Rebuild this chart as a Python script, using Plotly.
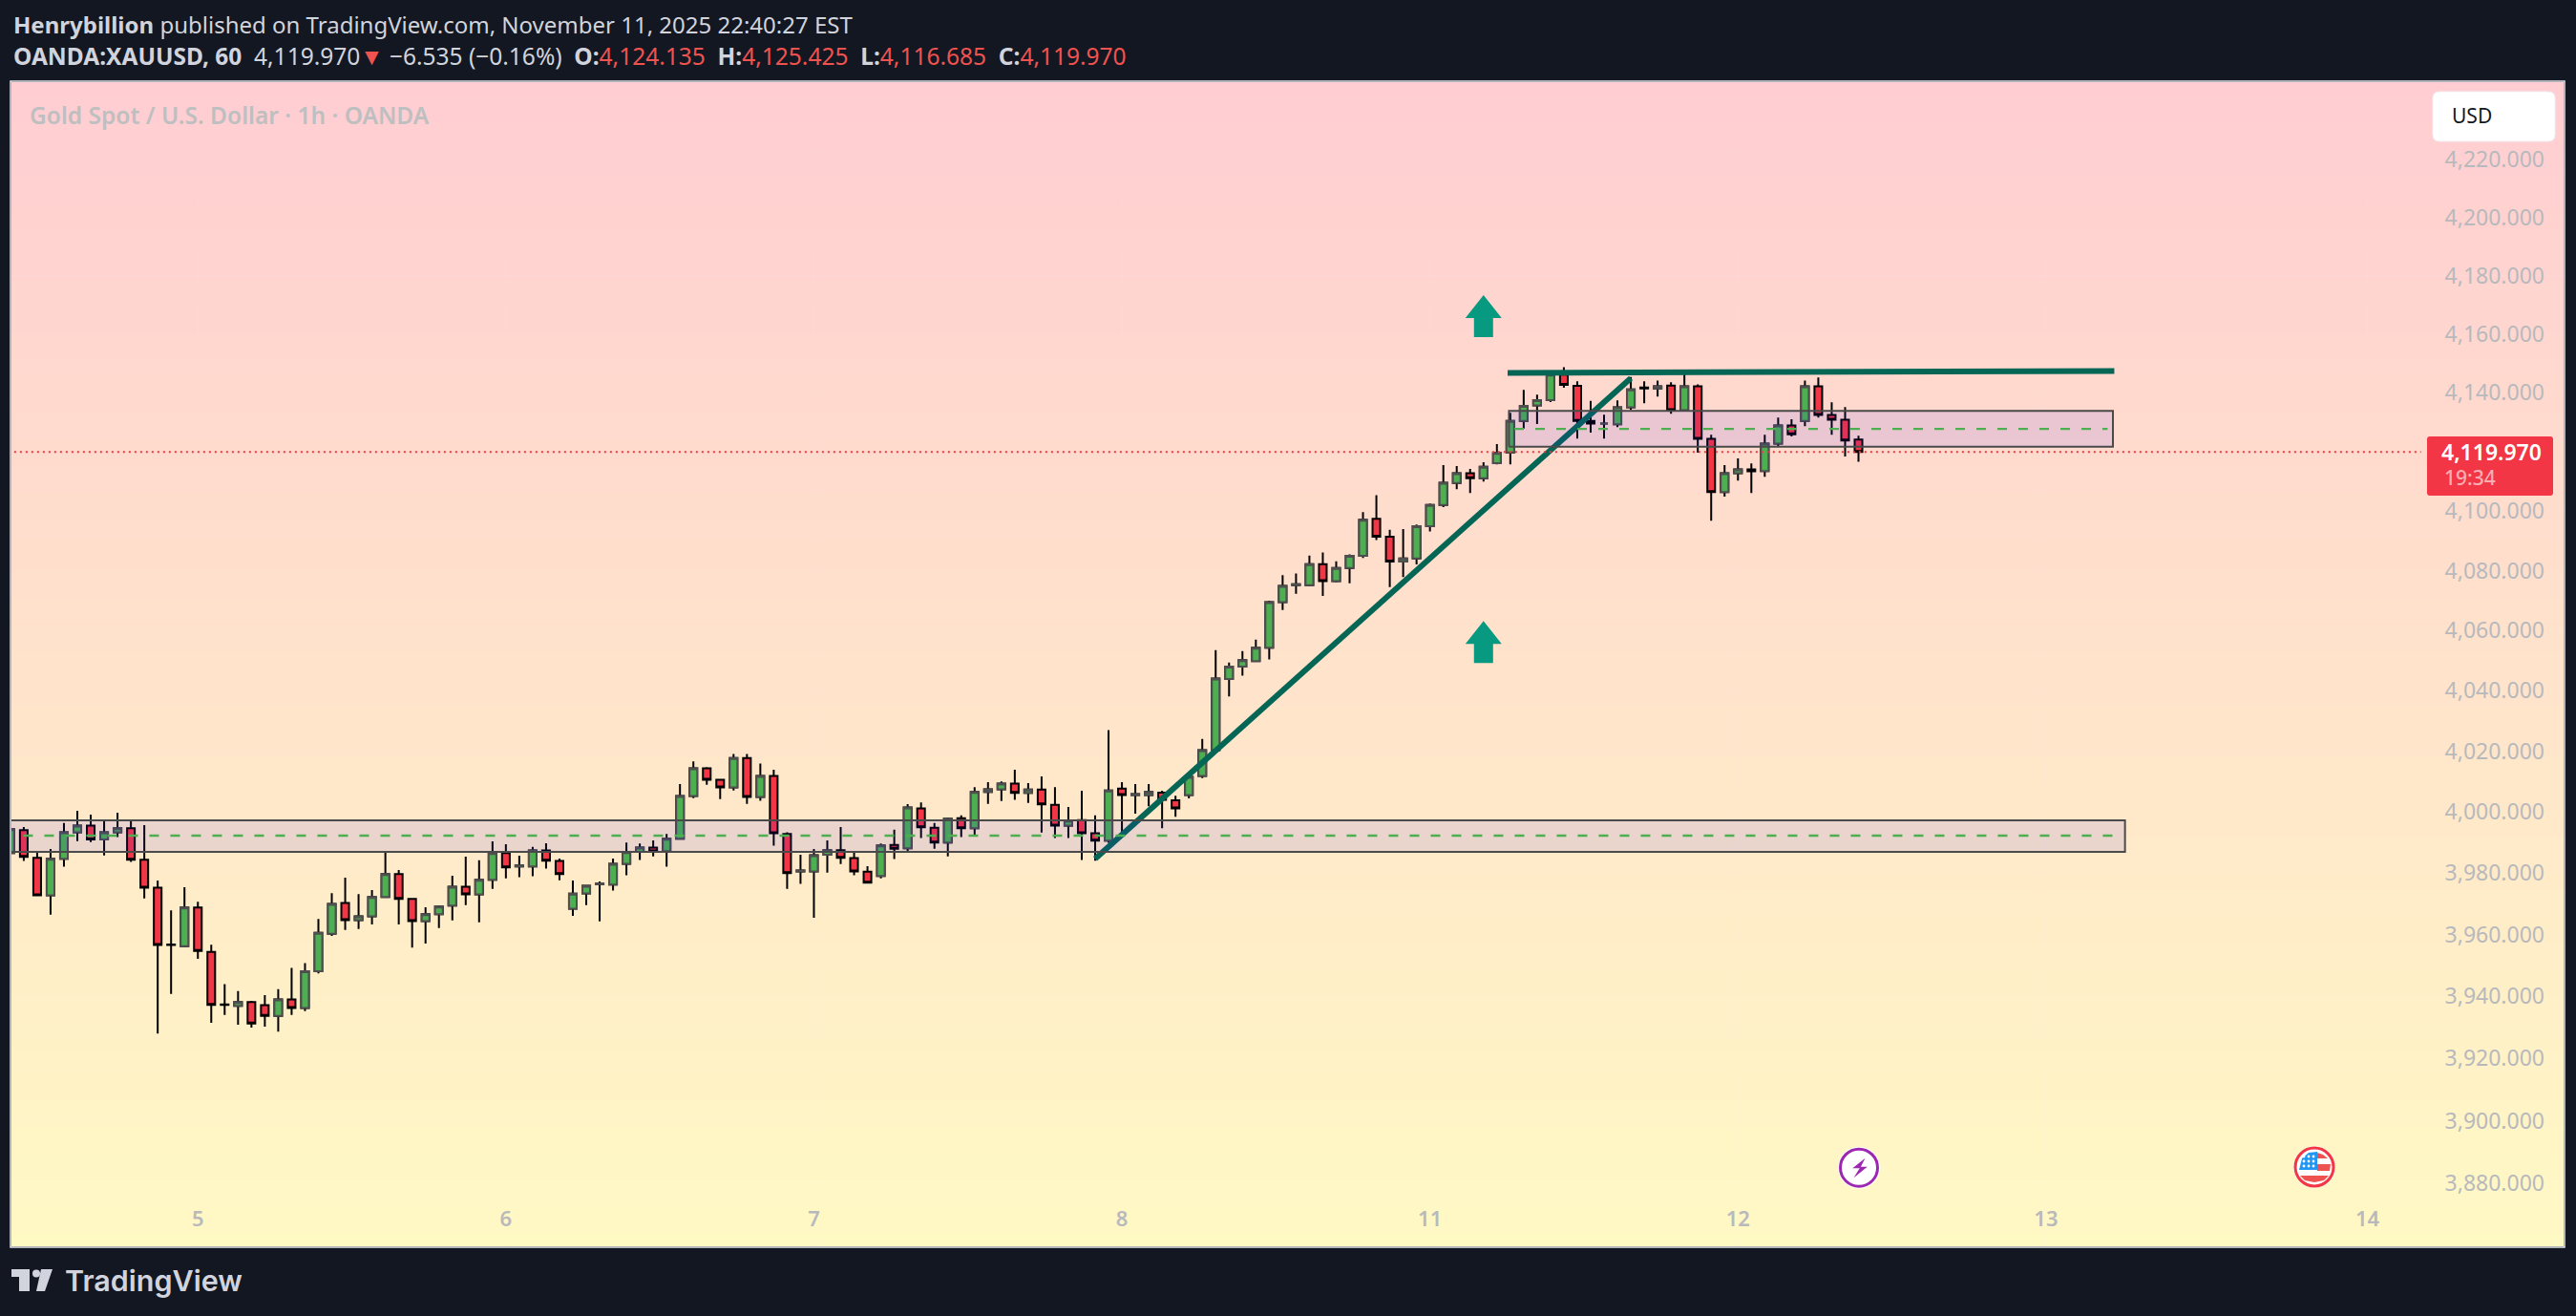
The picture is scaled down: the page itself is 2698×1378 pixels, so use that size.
import math
import plotly.graph_objects as go

W, H = 2698, 1378

# ---------- data (prices; log price scale) ----------
opens = [3986.6,3994.1,3985.0,3972.8,3984.7,3993.4,3995.6,3991.0,3993.4,3994.7,3984.4,3975.3,3956.8,3956.2,3968.8,3954.4,3937.4,3936.9,3938.1,3937.1,3933.7,3939.0,3936.2,3948.1,3960.3,3970.3,3964.7,3965.9,3972.2,3979.7,3971.6,3964.4,3966.6,3969.4,3975.6,3973.1,3977.8,3986.6,3982.2,3982.2,3987.4,3984.0,
         3968.4,3973.4,3976.4,3976.3,3983.1,3987.0,3988.4,3987.2,3991.3,4005.3,4014.4,4010.6,4008.1,4017.8,4005.0,4011.9,3992.8,3980.6,3980.6,3986.0,3987.5,3984.9,3980.5,3979.1,3989.2,3988.1,4001.2,3994.9,3990.0,3998.0,3994.7,4006.6,4007.5,4009.4,4006.3,4007.4,4002.4,3995.6,3997.4,3993.1,3990.6,
         4007.7,4005.6,4005.6,4006.4,4003.9,4005.6,4011.9,4020.4,4043.9,4048.0,4049.9,4054.3,4069.5,4075.2,4075.2,4082.2,4076.5,4080.9,4085.0,4097.4,4091.4,4083.1,4084.1,4094.9,
         4102.1,4109.5,4112.8,4111.1,4116.2,4119.8,4130.5,4135.7,4137.5,4146.2,4142.4,4130.5,4129.6,4129.3,4135.1,4141.8,4141.5,4142.5,4134.1,4142.2,4124.4,4106.4,4112.8,4114.1,4113.5,4122.8,4128.9,4130.5,4142.2,4132.5,4130.9,4124.135]
highs = [3996.0,3995.1,3986.9,3987.9,3996.4,4000.4,3999.2,3997.3,3999.8,3997.3,3995.7,3977.6,3967.9,3975.4,3970.7,3956.7,3943.9,3941.7,3938.5,3940.4,3942.3,3949.2,3950.7,3965.1,3973.5,3978.5,3973.2,3974.5,3987.0,3981.0,3971.6,3968.9,3969.5,3979.2,3985.4,3984.2,3990.4,3989.5,3985.7,3988.6,3989.8,3984.8,
         3977.6,3975.9,3977.3,3984.8,3990.0,3989.7,3990.7,3992.8,4009.2,4016.7,4014.8,4010.6,4019.1,4019.1,4016.0,4013.9,3993.4,3986.0,3987.9,3990.7,3995.1,3986.9,3982.3,3989.7,3994.2,4002.6,4003.2,3996.4,3998.2,3998.9,4008.2,4009.8,4010.1,4013.9,4009.5,4011.7,4008.2,4001.7,4007.0,3998.9,4027.0,
         4009.8,4009.2,4009.2,4007.0,4005.4,4012.2,4024.1,4053.5,4049.4,4053.2,4057.0,4070.0,4078.5,4079.1,4085.1,4086.1,4083.2,4085.5,4099.7,4105.4,4093.7,4094.0,4095.5,4102.6,
         4115.5,4115.2,4114.2,4116.5,4122.6,4133.2,4141.0,4139.4,4147.6,4148.7,4143.9,4137.3,4132.6,4137.4,4145.4,4143.9,4144.2,4143.6,4146.5,4142.9,4125.8,4115.5,4117.8,4116.1,4125.8,4131.6,4131.0,4144.2,4145.2,4136.8,4135.2,4125.425]
lows = [3985.0,3984.0,3972.8,3966.5,3982.1,3990.5,3990.2,3985.8,3991.8,3983.7,3971.8,3928.0,3940.8,3956.2,3952.1,3931.4,3934.0,3930.8,3929.9,3930.2,3928.6,3934.0,3935.2,3947.4,3959.6,3961.5,3961.8,3963.3,3972.2,3963.3,3955.8,3957.1,3962.1,3964.6,3969.6,3964.0,3974.9,3978.3,3978.7,3979.0,3981.5,3977.7,
        3966.1,3969.6,3964.3,3974.3,3979.3,3984.3,3985.5,3982.1,3991.3,4004.6,4009.0,4004.3,4007.1,4002.7,4003.7,3989.0,3974.9,3976.5,3965.5,3980.2,3983.0,3979.3,3976.9,3978.3,3984.6,3987.1,3991.5,3988.0,3985.5,3991.8,3992.1,4002.7,4003.6,4004.0,4003.0,3993.3,3991.5,3991.5,3984.3,3984.1,3989.9,
        3992.2,3999.5,4001.9,3994.7,3998.5,4004.5,4011.2,4019.4,4038.1,4045.0,4049.9,4050.4,4066.9,4072.3,4075.2,4071.6,4076.1,4075.8,4084.3,4090.3,4074.5,4077.9,4082.1,4093.2,
        4101.4,4107.4,4106.1,4110.0,4115.8,4115.8,4127.9,4129.4,4136.9,4141.7,4124.5,4126.5,4124.5,4128.4,4134.2,4136.5,4138.7,4132.9,4133.7,4119.7,4096.8,4104.9,4110.3,4106.1,4111.6,4121.9,4125.2,4128.7,4131.6,4125.8,4118.4,4116.685]
closes = [3994.4,3985.3,3972.8,3984.7,3993.4,3995.6,3991.0,3993.4,3994.7,3984.4,3975.3,3956.6,3956.6,3968.8,3954.7,3937.2,3937.2,3938.1,3931.2,3933.7,3939.0,3936.2,3948.1,3960.6,3970.0,3964.7,3965.9,3972.2,3979.7,3971.6,3964.4,3966.6,3969.1,3975.6,3973.1,3977.8,3986.6,3981.9,3982.5,3987.4,3984.1,3979.7,
          3973.3,3975.9,3976.6,3983.1,3986.9,3988.4,3987.1,3991.3,4005.3,4014.4,4010.6,4008.1,4017.8,4005.0,4011.9,3993.1,3980.0,3980.9,3985.9,3987.5,3985.0,3980.6,3976.9,3989.1,3988.0,4001.5,3995.0,3990.0,3997.8,3994.7,4006.6,4007.5,4009.4,4006.3,4007.4,4002.5,3995.6,3997.2,3993.1,3990.6,4007.1,
          4005.6,4005.9,4006.6,4004.0,4001.2,4011.6,4020.4,4044.1,4048.0,4050.2,4054.3,4069.5,4074.9,4075.5,4082.2,4076.5,4080.9,4085.0,4097.1,4091.4,4083.1,4084.1,4094.9,4102.1,
          4109.6,4112.8,4111.1,4115.0,4119.6,4130.5,4135.6,4137.5,4146.2,4142.7,4130.5,4129.6,4129.6,4135.1,4141.2,4141.5,4142.2,4134.1,4142.2,4124.4,4106.4,4112.8,4114.1,4113.4,4122.8,4128.9,4125.9,4142.2,4132.5,4130.9,4123.8,4119.970]
bars = list(range(-1, len(opens) - 1))

day_ticks = [13, 36, 59, 82, 105, 128, 151, 175]
day_labels = ["5", "6", "7", "8", "11", "12", "13", "14"]
price_ticks = [3880, 3900, 3920, 3940, 3960, 3980, 4000, 4020, 4040, 4060, 4080, 4100, 4140, 4160, 4180, 4200, 4220]
price_labels = [f"{p:,.3f}" for p in price_ticks]

trend_x, trend_y = [80.0, 120.0], [3984.7, 4145.0]
ceiling_x, ceiling_y = [110.8, 156.1], [4146.8, 4147.4]
zone_low_x, zone_low_y = [-2, 156.9], [3987.0, 3997.3]
zone_low_mid = 3992.3
zone_high_x, zone_high_y = [110.9, 156.0], [4121.7, 4133.9]
zone_high_mid = 4127.75
last_price = 4119.970
last_x = [-2, 179.0]
arrow_x = 109
arrow_prices = [4159.0, 4049.2]

BG = "#131722"
TXT = "#d1d4dc"
AXIS_TXT = "#b8b9bd"
RED = "#f23645"
HEAD_RED = "#ef5350"
UP_FILL = "#4caf50"
UP_EDGE = "#4f4f4f"
DARK_TEAL = "#056656"
ARROW = "#089981"
BOX_FILL = "rgba(45,25,250,0.10)"
BOX_EDGE = "#4a4a4a"
FONT = "Noto Sans"

def X(px): return px / W
def Y(py): return 1 - py / H
def poly(pts):
    return "M" + " L".join(f"{X(a):.6f} {Y(b):.6f}" for a, b in pts) + " Z"
def round_rect(x0, y0, x1, y1, r):
    p = lambda a, b: f"{X(a):.6f} {Y(b):.6f}"
    return (f"M{p(x0+r,y0)} L{p(x1-r,y0)} Q{p(x1,y0)} {p(x1,y0+r)} L{p(x1,y1-r)} Q{p(x1,y1)} {p(x1-r,y1)} "
            f"L{p(x0+r,y1)} Q{p(x0,y1)} {p(x0,y1-r)} L{p(x0,y0+r)} Q{p(x0,y0)} {p(x0+r,y0)} Z")

fig = go.Figure()

# gradient background on its own subplot (drawn first)
fig.add_trace(go.Heatmap(x=[0, 1], y=[0, 1], z=[[0, 0], [1, 1]], zsmooth="best", showscale=False,
                         colorscale=[[0, "#FFF9C4"], [1, "#FFCDD2"]], hoverinfo="skip", xaxis="x", yaxis="y"))

def line(x, y, **kw):
    fig.add_trace(go.Scatter(x=x, y=y, mode="lines", xaxis="x2", yaxis="y2", hoverinfo="skip", showlegend=False, **kw))

line(trend_x, trend_y, line=dict(color=DARK_TEAL, width=6))
for zx, zy, mid in ((zone_low_x, zone_low_y, zone_low_mid), (zone_high_x, zone_high_y, zone_high_mid)):
    line([zx[0], zx[1], zx[1], zx[0], zx[0]], [zy[0], zy[0], zy[1], zy[1], zy[0]],
         fill="toself", fillcolor=BOX_FILL, line=dict(color=BOX_EDGE, width=2))
    line([zx[0] + 0.4, zx[1] - 0.4], [mid, mid], line=dict(color=UP_FILL, width=2.4, dash="10px,12px"))
line(ceiling_x, ceiling_y, line=dict(color=DARK_TEAL, width=6))
line(last_x, [last_price, last_price], line=dict(color=RED, width=2, dash="2px,4px"))

# candles: black wicks and outlines, then grey outlines on the rising bodies
fig.add_trace(go.Candlestick(
    x=bars, open=opens, high=highs, low=lows, close=closes, xaxis="x2", yaxis="y2",
    whiskerwidth=0, showlegend=False, hoverinfo="skip",
    increasing=dict(fillcolor=UP_FILL, line=dict(color="#000000", width=2)),
    decreasing=dict(fillcolor=RED, line=dict(color="#000000", width=2))))
up = [i for i in range(len(bars)) if closes[i] >= opens[i]]
fig.add_trace(go.Candlestick(
    x=[bars[i] for i in up], open=[opens[i] for i in up], close=[closes[i] for i in up],
    high=[closes[i] for i in up], low=[opens[i] for i in up], xaxis="x2", yaxis="y2",
    whiskerwidth=0, showlegend=False, hoverinfo="skip",
    increasing=dict(fillcolor=UP_FILL, line=dict(color=UP_EDGE, width=2)),
    decreasing=dict(fillcolor=UP_FILL, line=dict(color=UP_EDGE, width=2))))

shapes = []
# plot border
shapes.append(dict(type="rect", xref="paper", yref="paper", x0=X(11), x1=X(2686), y0=Y(1306), y1=Y(85),
                   line=dict(color="#e6e8ee", width=1.5), fillcolor="rgba(0,0,0,0)", layer="below"))
# arrows
for price in arrow_prices:
    shapes.append(dict(type="path", xref="x2", yref="y2", xsizemode="pixel", ysizemode="pixel",
                       xanchor=arrow_x, yanchor=price,
                       path="M-10 0 L-10 20 L-19 20 L0 44 L19 20 L10 20 L10 0 Z",
                       fillcolor=ARROW, line=dict(width=0)))
# USD button and last-price tag
shapes.append(dict(type="path", xref="paper", yref="paper", path=round_rect(2548, 96, 2676, 148, 7),
                   fillcolor="#ffffff", line=dict(color="#f0f1f4", width=1)))
shapes.append(dict(type="path", xref="paper", yref="paper", path=round_rect(2542, 457, 2674, 519, 3),
                   fillcolor=RED, line=dict(width=0)))
# event icons
def circle(cx, cy, r, fill, edge=None, w=0):
    shapes.append(dict(type="circle", xref="paper", yref="paper", x0=X(cx - r), x1=X(cx + r), y0=Y(cy + r), y1=Y(cy - r),
                       fillcolor=fill, line=dict(color=edge or fill, width=w)))
circle(1947, 1222.7, 22, "#ffffff")
circle(1947, 1222.7, 19.5, "#ffffff", "#9c27b0", 3)
shapes.append(dict(type="path", xref="paper", yref="paper", fillcolor="#9c27b0", line=dict(width=0),
                   path=poly([(1953.5, 1212.7), (1940.3, 1223.3), (1947.8, 1223.3), (1941.5, 1233.3), (1955.8, 1221.7), (1948.9, 1221.7)])))
circle(2424, 1222, 22, "#ffffff")
circle(2424, 1222, 20, "#ffffff", RED, 3)
for pts, col in (([(2427, 1207), (2433, 1209), (2438, 1213), (2427, 1213)], "#ef5350"),
                 ([(2427, 1219), (2441, 1219), (2440, 1226), (2427, 1226)], "#ef5350"),
                 ([(2409, 1231), (2439, 1231), (2434, 1236), (2424, 1238), (2414, 1236)], "#ef5350"),
                 ([(2427, 1206), (2418, 1207), (2411, 1213), (2408, 1225), (2427, 1225)], "#2196f3")):
    shapes.append(dict(type="path", xref="paper", yref="paper", fillcolor=col, line=dict(width=0), path=poly(pts)))
for sx in (2413, 2418, 2423):
    for sy in (1211, 1216, 1221):
        circle(sx, sy, 1.4, "#ffffff")
# TradingView logo mark
for pts in ([(12, 1329), (31, 1329), (31, 1352), (20, 1352), (20, 1337), (12, 1337)],
            [(55, 1329), (43, 1329), (38, 1352), (47, 1352)]):
    shapes.append(dict(type="path", xref="paper", yref="paper", fillcolor=TXT, line=dict(width=0), path=poly(pts)))
circle(38, 1333.5, 4, TXT)

def note(x, y, text, size, color=TXT, anchor="left", weight=None, family=FONT):
    f = dict(family=family, size=size, color=color)
    if weight: f["weight"] = weight
    return dict(xref="paper", yref="paper", x=X(x), y=Y(y), xanchor=anchor, yanchor="middle",
                text=text, showarrow=False, font=f, align=anchor)

r = lambda s: f"<span style='color:{HEAD_RED}'>{s}</span>"
annotations = [
    note(12, 25, "<b>Henrybillion</b> published on TradingView.com, November 11, 2025 22:40:27 EST", 24),
    note(12, 58, "<b>OANDA:XAUUSD, 60</b>  4,119.970" + r("▼") + " −6.535 (−0.16%)  <b>O:</b>" + r("4,124.135")
         + "  <b>H:</b>" + r("4,125.425") + "  <b>L:</b>" + r("4,116.685") + "  <b>C:</b>" + r("4,119.970"), 24.5),
    note(29, 120, "Gold Spot / U.S. Dollar · 1h · OANDA", 24.5, "#bdbfc0", weight=600),
    note(2566, 121, "USD", 21, "#131722"),
    note(2664, 473, "4,119.970", 23, "#ffffff", "right", weight=600),
    note(2558, 500, "19:34", 21, "rgba(255,255,255,0.6)", weight=500),
    note(66, 1340, "TradingView", 30.5, TXT, weight=600, family="Inter"),
]

fig.update_layout(
    width=W, height=H, margin=dict(l=0, r=0, t=0, b=0), paper_bgcolor=BG, plot_bgcolor="rgba(0,0,0,0)",
    showlegend=False, shapes=shapes, annotations=annotations, hovermode=False,
    boxgap=0.3, boxgroupgap=0.18,
    xaxis=dict(domain=[X(12), X(2685)], range=[0, 1], visible=False, anchor="y"),
    yaxis=dict(domain=[Y(1305), Y(86)], range=[0, 1], visible=False, anchor="x"),
    xaxis2=dict(domain=[X(12), X(2685)], range=[-0.92, 189.65], anchor="y2", rangeslider=dict(visible=False),
                tickmode="array", tickvals=day_ticks, ticktext=day_labels, ticks="", showline=False, zeroline=False,
                ticklabelposition="inside", ticklabelstandoff=14, tickangle=0,
                tickfont=dict(family=FONT, size=22, color=AXIS_TXT, weight=600),
                showgrid=True, gridcolor="rgba(240,243,250,0.08)"),
    yaxis2=dict(domain=[Y(1305), Y(86)], type="log", range=[math.log10(3860.0), math.log10(4246.9)], anchor="x2",
                side="right", tickmode="array", tickvals=price_ticks, ticktext=price_labels, ticks="",
                showline=False, zeroline=False, ticklabelposition="inside", ticklabelstandoff=17,
                tickfont=dict(family=FONT, size=23, color=AXIS_TXT),
                showgrid=True, gridcolor="rgba(240,243,250,0.08)"),
)

fig.write_html("out.html", config={"displayModeBar": False},
               post_script="document.body.style.margin='0';document.documentElement.style.overflow='hidden';"
                           "document.body.style.background='#131722';")
